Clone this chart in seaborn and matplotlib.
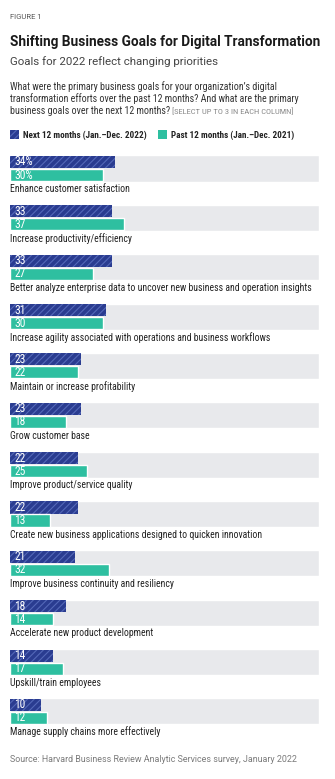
import matplotlib
matplotlib.use("Agg")
import numpy as np
import pandas as pd
import seaborn as sns
import matplotlib.pyplot as plt
from matplotlib import font_manager as fm
from matplotlib.patches import Patch

# ---------------- data ----------------
goals = [
    "Enhance customer satisfaction",
    "Increase productivity/efficiency",
    "Better analyze enterprise data to uncover new business and operation insights",
    "Increase agility associated with operations and business workflows",
    "Maintain or increase profitability",
    "Grow customer base",
    "Improve product/service quality",
    "Create new business applications designed to quicken innovation",
    "Improve business continuity and resiliency",
    "Accelerate new product development",
    "Upskill/train employees",
    "Manage supply chains more effectively",
]
next_12 = [34, 33, 33, 31, 23, 23, 22, 22, 21, 18, 14, 10]
past_12 = [30, 37, 27, 30, 22, 18, 25, 13, 32, 14, 17, 12]
series_names = ["Next 12 months (Jan.\u2013Dec. 2022)", "Past 12 months (Jan.\u2013Dec. 2021)"]
labels_next = [f"{v}%" if i == 0 else str(v) for i, v in enumerate(next_12)]
labels_past = [f"{v}%" if i == 0 else str(v) for i, v in enumerate(past_12)]
full_scale = [100] * len(goals)

# ---------------- style ----------------
sns.set_theme(style="white")
names = {f.name for f in fm.fontManager.ttflist}


def pick(cands, default):
    for c in cands:
        if c in names:
            return c
    return default


NARROW = pick(["Liberation Sans Narrow", "Roboto Condensed", "DejaVu Sans Condensed"], "Liberation Sans")
SANS = pick(["Roboto", "Liberation Sans"], "DejaVu Sans")
plt.rcParams["font.family"] = [NARROW, "DejaVu Sans"]
plt.rcParams["hatch.linewidth"] = 0.8

NAVY = "#2a3c90"
STRIPE = "#5468b8"
TEAL = "#2ebfa0"
BAND = "#e8e9ec"

W, H = 335, 779
fig = plt.figure(figsize=(W / 100, H / 100), dpi=100)
fig.patch.set_facecolor("white")


def fx(px):
    return px / W


def fy(py):
    return 1 - py / H


pitch = 49.36
center0 = 168.5
y_top = center0 - pitch / 2
y_bot = y_top + pitch * len(goals)
ax = fig.add_axes([fx(10), fy(y_bot), fx(309), (y_bot - y_top) / H])

df = pd.DataFrame({
    "goal": goals * 2,
    "series": [series_names[0]] * len(goals) + [series_names[1]] * len(goals),
    "value": next_12 + past_12,
})
bg = pd.DataFrame({"goal": goals, "value": full_scale})

sns.barplot(data=bg, y="goal", x="value", color=BAND, width=0.527, orient="h",
            saturation=1, errorbar=None, ax=ax, zorder=0)
sns.barplot(data=df, y="goal", x="value", hue="series", hue_order=series_names,
            palette=[NAVY, TEAL], width=0.527, gap=0.07, orient="h", saturation=1,
            errorbar=None, legend=False, ax=ax, zorder=2)

for p in ax.containers[1]:
    p.set_hatch("/////")
    p.set_edgecolor(STRIPE)
    p.set_linewidth(0)

for cont, labs in ((ax.containers[1], labels_next), (ax.containers[2], labels_past)):
    for p, lab in zip(cont, labs):
        ax.text(p.get_x() + 1.4, p.get_y() + p.get_height() / 2, lab, color="white",
                va="center", ha="left", fontsize=8.3, zorder=5)

yt = ax.get_yticks()
for y, g in zip(yt, goals):
    ax.text(0, y + 0.415, g, va="center", ha="left", fontsize=7.0, color="#222222")

ax.set_xlim(0, 100)
ax.set_ylim(len(goals) - 0.5, -0.5)
ax.axis("off")

renderer = fig.canvas.get_renderer()


def fit(t, target):
    w = t.get_window_extent(renderer).width
    t.set_fontsize(t.get_fontsize() * target / w)


fig.text(fx(10), fy(17), "FIGURE 1", fontsize=5.5, color="#555555", va="center", family=SANS)
t = fig.text(fx(10), fy(42), "Shifting Business Goals for Digital Transformation", fontsize=10,
             fontweight="bold", color="#1a1a1a", va="center", family=SANS)
fit(t, 309)
t = fig.text(fx(10), fy(62), "Goals for 2022 reflect changing priorities", fontsize=8,
             color="#444444", va="center", family=SANS)
fit(t, 209)

q1 = fig.text(fx(10), fy(87), "What were the primary business goals for your organization\u2019s digital",
              fontsize=7, color="#333333", va="center")
fit(q1, 269)
qs = q1.get_fontsize()
fig.text(fx(10), fy(99), "transformation efforts over the past 12 months? And what are the primary",
         fontsize=qs, color="#333333", va="center")
q3 = fig.text(fx(10), fy(111), "business goals over the next 12 months? ", fontsize=qs,
              color="#333333", va="center")
bb = q3.get_window_extent(renderer)
fig.text(bb.x1 / W, fy(111), "[SELECT UP TO 3 IN EACH COLUMN]", fontsize=qs * 0.85,
         color="#8a8a8a", va="center")

# legend: size chosen so that the first entry's text is ~123 px wide
probe = fig.text(0, 0, series_names[0], family=NARROW, weight="bold", fontsize=10)
leg_size = 10 * 123 / probe.get_window_extent(renderer).width
probe.remove()
leg_px = leg_size * 100 / 72
handles = [Patch(facecolor=NAVY, edgecolor=STRIPE, hatch="/////", linewidth=0),
           Patch(facecolor=TEAL, linewidth=0)]
leg = fig.legend(handles, series_names, loc="center left", bbox_to_anchor=(fx(10), fy(135)),
                 ncol=2, frameon=False, borderpad=0, borderaxespad=0,
                 handlelength=9 / leg_px, handleheight=9 / leg_px,
                 handletextpad=4 / leg_px, columnspacing=11 / leg_px,
                 prop={"family": NARROW, "weight": "bold", "size": leg_size})
for tx in leg.get_texts():
    tx.set_color("#222222")

t = fig.text(fx(10), fy(759), "Source: Harvard Business Review Analytic Services survey, January 2022",
             fontsize=6.5, color="#7a7a7a", va="center", family=SANS)
fit(t, 287)

fig.savefig("out.png", dpi=100, facecolor="white")
